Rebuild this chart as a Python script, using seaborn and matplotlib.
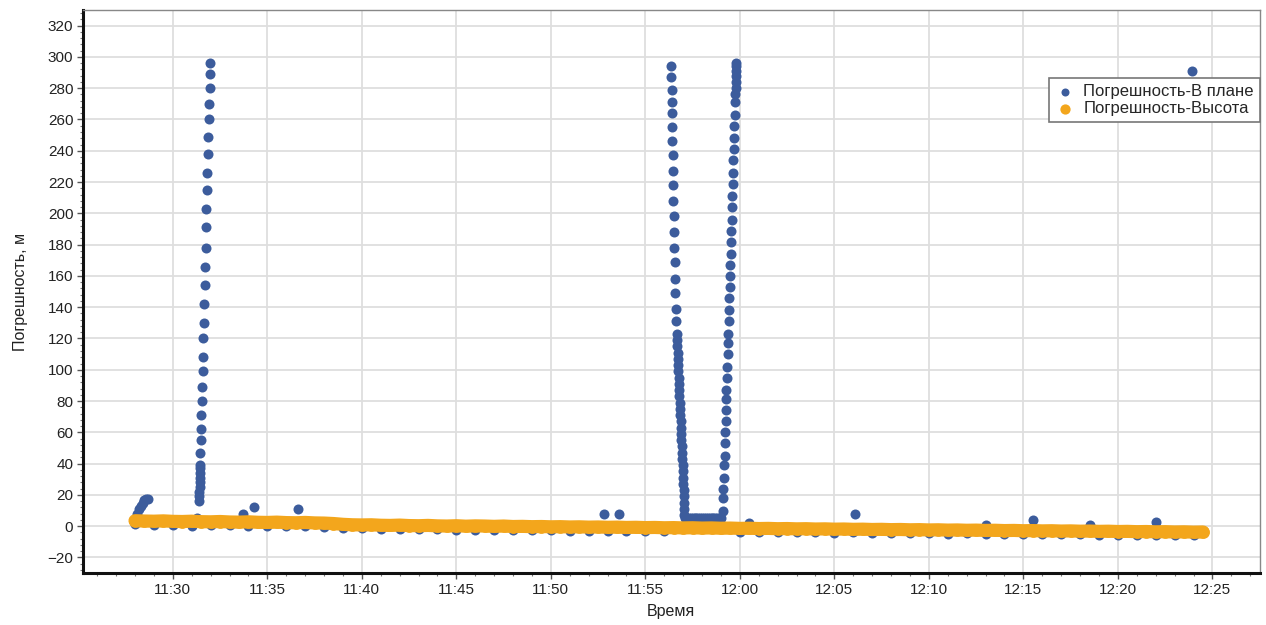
import numpy as np
import pandas as pd
import matplotlib
matplotlib.use("Agg")
import matplotlib.pyplot as plt
from matplotlib.ticker import MultipleLocator, FuncFormatter
import seaborn as sns

# ---------------- data (minutes after 11:00, error in metres) ----------------
SERIES_NAMES = ["Погрешность-В плане", "Погрешность-Высота"]

# horizontal error: baseline
BLUE_BASE_T = [28.0, 29.0, 30.0, 31.0, 32.0, 33.0, 34.0, 35.0, 36.0, 37.0, 38.0, 39.0,
               40.0, 41.0, 42.0, 43.0, 44.0, 45.0, 46.0, 47.0, 48.0, 49.0, 50.0, 51.0,
               52.0, 53.0, 54.0, 55.0, 56.0, 60.0, 61.0, 62.0, 63.0, 64.0, 65.0, 66.0,
               67.0, 68.0, 69.0, 70.0, 71.0, 72.0, 73.0, 74.0, 75.0, 76.0, 77.0, 78.0,
               79.0, 80.0, 81.0, 82.0, 83.0, 84.0]
BLUE_BASE_V = [1.2, 1.0, 0.9, 0.3, 0.8, 0.6, 0.3, 0.2, 0.0, 0.1, -0.2, -1.0,
               -1.4, -1.6, -1.8, -2.0, -1.9, -2.2, -2.3, -2.4, -2.5, -2.7, -2.6, -2.8,
               -3.0, -2.9, -3.1, -3.2, -3.0, -3.5, -3.6, -3.7, -3.8, -3.9, -4.1, -4.0,
               -4.2, -4.3, -4.4, -4.5, -4.7, -4.6, -4.8, -4.9, -5.0, -5.1, -5.2, -5.3,
               -5.4, -5.5, -5.6, -5.7, -5.8, -5.9]

# horizontal error: start bump
BLUE_START_T = [28.1, 28.2, 28.3, 28.4, 28.5, 28.6, 28.7]
BLUE_START_V = [8, 11, 13, 15, 16.5, 17.5, 17.5]

# horizontal error: first spike (~11:31-11:32)
SPIKE1_T = [31.30, 31.40, 31.41, 31.41, 31.42, 31.42, 31.43, 31.44, 31.44, 31.45, 31.46,
            31.48, 31.49, 31.51, 31.53, 31.55, 31.57, 31.59, 31.61, 31.63, 31.66,
            31.68, 31.71, 31.73, 31.76, 31.78, 31.81, 31.83, 31.85, 31.87, 31.90,
            31.92, 31.94, 31.95, 31.97]
SPIKE1_V = [5, 16, 19, 22, 25, 28, 31, 34, 37, 39, 47,
            55, 62, 71, 80, 89, 99, 108, 120, 130, 142,
            154, 166, 178, 191, 203, 215, 226, 238, 249, 260,
            270, 280, 289, 296]

# horizontal error: second spike (~11:56-12:00), descending, flat, rising
SPIKE2_T = [56.37, 56.38, 56.39, 56.40, 56.41, 56.42, 56.43, 56.44, 56.46, 56.47,
            56.48, 56.50, 56.51, 56.53, 56.55, 56.57, 56.59, 56.61, 56.63, 56.65,
            56.67, 56.68, 56.70, 56.71, 56.73, 56.74, 56.76, 56.77, 56.79, 56.80,
            56.82, 56.83, 56.85, 56.86, 56.88, 56.89, 56.91, 56.92, 56.94, 56.95,
            56.97, 56.98, 57.00, 57.01, 57.03, 57.04, 57.05, 57.06, 57.07, 57.08,
            57.2, 57.3, 57.4, 57.5, 57.6, 57.7, 57.8, 57.9, 58.0, 58.1,
            58.2, 58.3, 58.4, 58.5, 58.6, 58.7, 58.8, 58.9, 59.0,
            59.10, 59.12, 59.13, 59.15, 59.17, 59.19, 59.21, 59.22, 59.24, 59.26,
            59.28, 59.29, 59.31, 59.33, 59.35, 59.37, 59.38, 59.40, 59.42, 59.44,
            59.46, 59.47, 59.49, 59.51, 59.53, 59.54, 59.56, 59.58, 59.60, 59.62,
            59.64, 59.66, 59.67, 59.69, 59.71, 59.73, 59.75, 59.76, 59.77, 59.78,
            59.79, 59.80, 59.80, 59.81]
SPIKE2_V = [294, 287, 279, 271, 264, 255, 246, 237, 227, 218,
            208, 198, 188, 178, 169, 158, 149, 139, 131, 123,
            119, 115, 111, 107, 103, 99, 95, 91, 87, 83,
            79, 75, 71, 67, 63, 59, 55, 51, 47, 43,
            39, 35, 31, 27, 23, 19, 15, 11, 7, 5,
            5, 5, 5, 5, 5, 5, 5, 5, 5, 5,
            5, 5, 5, 5, 5, 5, 5, 5, 5,
            10, 18, 24, 31, 39, 45, 53, 60, 67, 74,
            81, 87, 95, 102, 110, 117, 123, 131, 138, 146,
            153, 160, 167, 174, 182, 189, 196, 204, 211, 219,
            226, 234, 241, 248, 256, 263, 271, 276, 280, 284,
            288, 291, 294, 296]

# horizontal error: isolated points
BLUE_ISO_T = [33.7, 34.3, 36.6, 52.8, 53.6, 60.5, 66.1, 73.0, 75.5, 78.5, 82.0, 83.9]
BLUE_ISO_V = [8, 12, 11, 8, 8, 2, 8, 1, 4, 1, 3, 291]

# vertical error
ORANGE_T = [28.0, 28.5, 29.0, 29.5, 30.0, 30.5, 31.0, 31.5, 32.0, 32.5,
            33.0, 33.5, 34.0, 34.5, 35.0, 35.5, 36.0, 36.5, 37.0, 37.5,
            38.0, 38.5, 39.0, 39.5, 40.0, 40.5, 41.0, 41.5, 42.0, 42.5,
            43.0, 43.5, 44.0, 44.5, 45.0, 45.5, 46.0, 46.5, 47.0, 47.5,
            48.0, 48.5, 49.0, 49.5, 50.0, 50.5, 51.0, 51.5, 52.0, 52.5,
            53.0, 53.5, 54.0, 54.5, 55.0, 55.5, 56.0, 56.5, 57.0, 57.5,
            58.0, 58.5, 59.0, 59.5, 60.0, 60.5, 61.0, 61.5, 62.0, 62.5,
            63.0, 63.5, 64.0, 64.5, 65.0, 65.5, 66.0, 66.5, 67.0, 67.5,
            68.0, 68.5, 69.0, 69.5, 70.0, 70.5, 71.0, 71.5, 72.0, 72.5,
            73.0, 73.5, 74.0, 74.5, 75.0, 75.5, 76.0, 76.5, 77.0, 77.5,
            78.0, 78.5, 79.0, 79.5, 80.0, 80.5, 81.0, 81.5, 82.0, 82.5,
            83.0, 83.5, 84.0, 84.5]
ORANGE_V = [3.5, 3.3, 3.2, 3.4, 3.1, 3.0, 3.2, 2.9, 2.8, 3.0,
            2.7, 2.6, 2.8, 2.5, 2.4, 2.6, 2.3, 2.2, 2.4, 2.1,
            2.0, 1.7, 1.2, 0.9, 0.8, 0.9, 0.6, 0.5, 0.7, 0.4,
            0.3, 0.5, 0.2, 0.1, 0.3, 0.0, 0.2, 0.1, -0.1, 0.1,
            -0.2, -0.1, -0.3, -0.2, -0.4, -0.3, -0.5, -0.4, -0.6, -0.5,
            -0.7, -0.6, -0.8, -0.7, -0.9, -0.8, -1.0, -0.9, -1.1, -1.0,
            -1.2, -1.1, -1.3, -1.2, -1.4, -1.3, -1.5, -1.4, -1.6, -1.5,
            -1.7, -1.6, -1.8, -1.7, -1.9, -1.8, -2.0, -1.9, -2.1, -2.0,
            -2.2, -2.1, -2.3, -2.2, -2.4, -2.3, -2.5, -2.4, -2.6, -2.5,
            -2.7, -2.6, -2.8, -2.7, -2.9, -2.8, -3.0, -2.9, -3.1, -3.0,
            -3.2, -3.1, -3.3, -3.2, -3.4, -3.3, -3.5, -3.4, -3.6, -3.5,
            -3.7, -3.6, -3.8, -3.7]

X_TICKS = [30, 35, 40, 45, 50, 55, 60, 65, 70, 75, 80, 85]
Y_TICKS = [-20, 0, 20, 40, 60, 80, 100, 120, 140, 160, 180, 200, 220, 240, 260, 280, 300, 320]

BLUE = "#3c5c9c"
ORANGE = "#f3a61c"

# ---------------- build frames ----------------
blue_t = BLUE_BASE_T + BLUE_START_T + SPIKE1_T + SPIKE2_T + BLUE_ISO_T
blue_v = BLUE_BASE_V + BLUE_START_V + SPIKE1_V + SPIKE2_V + BLUE_ISO_V
df_blue = pd.DataFrame({"t": blue_t, "v": blue_v, "series": SERIES_NAMES[0]})
df_orange = pd.DataFrame({"t": ORANGE_T, "v": ORANGE_V, "series": SERIES_NAMES[1]})

# ---------------- plot ----------------
sns.set_theme(style="whitegrid")
plt.rcParams["font.family"] = ["Liberation Sans", "DejaVu Sans"]

fig = plt.figure(figsize=(12.66, 6.25), dpi=100)
ax = fig.add_axes([0.0656, 0.083, 0.9294, 0.901])

sns.scatterplot(data=df_blue, x="t", y="v", color=BLUE, s=52, linewidth=0,
                label=SERIES_NAMES[0], ax=ax, zorder=3)
# dense orange track drawn as a thick stroke through the same points
sns.lineplot(data=df_orange, x="t", y="v", color=ORANGE, linewidth=9.5,
             solid_capstyle="round", legend=False, ax=ax, zorder=4,
             estimator=None, sort=True)
sns.scatterplot(data=df_orange, x="t", y="v", color=ORANGE, s=85, linewidth=0,
                label=SERIES_NAMES[1], ax=ax, zorder=5)

ax.set_xlim(25.25, 87.5)
ax.set_ylim(-30, 330)
ax.set_xticks(X_TICKS)
ax.set_yticks(Y_TICKS)
ax.xaxis.set_minor_locator(MultipleLocator(1))
ax.yaxis.set_minor_locator(MultipleLocator(4))
ax.xaxis.set_major_formatter(FuncFormatter(lambda m, _: f"{11 + int(m // 60)}:{int(m % 60):02d}"))

ax.grid(True, which="major", color="#dedede", linewidth=1.3)
ax.grid(False, which="minor")
ax.set_facecolor("white")

ax.tick_params(axis="both", which="major", length=4, width=1, color="#555555",
               labelsize=11, labelcolor="#222222", direction="out", pad=3)
ax.tick_params(axis="both", which="minor", length=2.5, width=0.8, color="#777777",
               direction="out")
ax.tick_params(axis="x", which="both", bottom=True)
ax.tick_params(axis="y", which="both", left=True)

for side in ["left", "bottom"]:
    ax.spines[side].set_color("#111111")
    ax.spines[side].set_linewidth(2.2)
for side in ["top", "right"]:
    ax.spines[side].set_color("#888888")
    ax.spines[side].set_linewidth(1.0)

ax.set_xlabel("Время", fontsize=11.5, color="#222222", labelpad=5)
ax.set_ylabel("Погрешность, м", fontsize=11.5, color="#222222", labelpad=14)

leg = ax.legend(loc="upper right", bbox_to_anchor=(1.0, 0.879), borderaxespad=0.0,
                frameon=True, fancybox=False, edgecolor="#777777", framealpha=1.0,
                fontsize=12, handletextpad=0.5, borderpad=0.35, labelspacing=0.15,
                handlelength=1.2, markerscale=0.8)
leg.get_frame().set_linewidth(1.2)

fig.savefig("out.png", dpi=100)
